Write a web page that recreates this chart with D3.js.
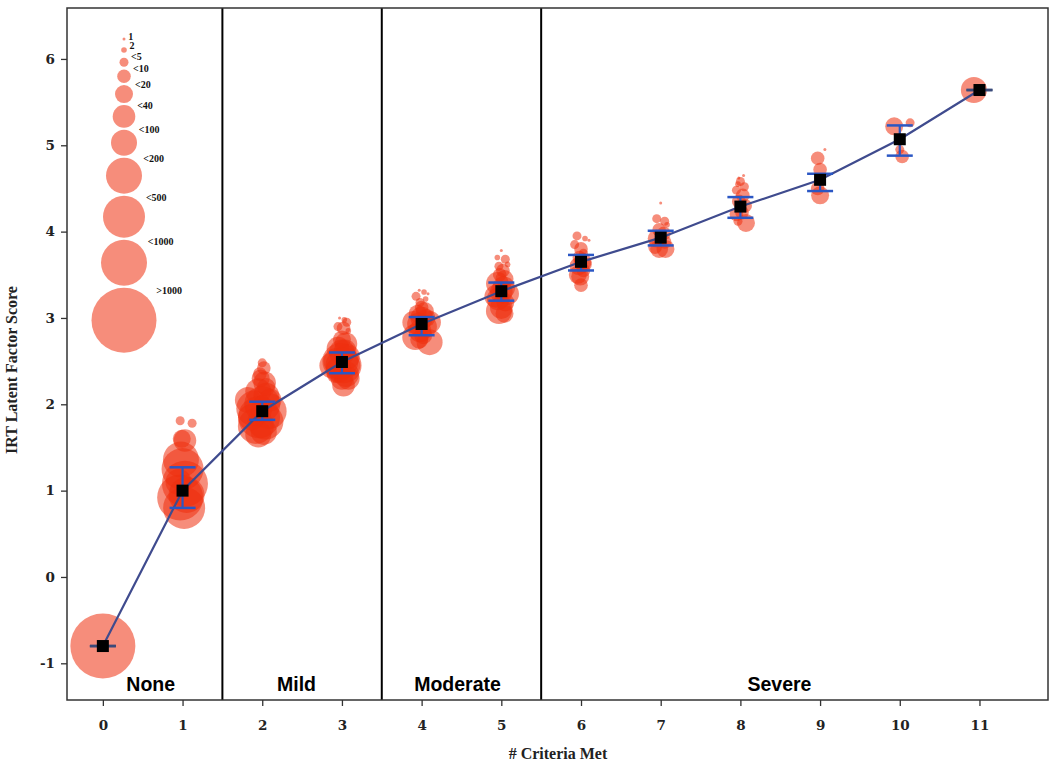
<!DOCTYPE html>
<html>
<head>
<meta charset="utf-8">
<script src="https://cdn.jsdelivr.net/npm/d3@7"></script>
<style>
  html, body { margin: 0; padding: 0; background: #fff; }
  svg { display: block; }
</style>
</head>
<body>
<svg id="chart" width="1050" height="763"></svg>
<script>
// ---------------- data ----------------
const criteria = [0, 1, 2, 3, 4, 5, 6, 7, 8, 9, 10, 11];
const meanScore = [-0.80, 1.00, 1.92, 2.49, 2.93, 3.31, 3.65, 3.93, 4.29, 4.60, 5.07, 5.64];
const lowerCI   = [-0.80, 0.80, 1.82, 2.36, 2.80, 3.20, 3.55, 3.84, 4.16, 4.47, 4.88, 5.64];
const upperCI   = [-0.80, 1.27, 2.03, 2.60, 3.01, 3.41, 3.73, 4.01, 4.40, 4.67, 5.23, 5.64];
const yTicks = [-1, 0, 1, 2, 3, 4, 5, 6];

const sizeBins = ["1", "2", "<5", "<10", "<20", "<40", "<100", "<200", "<500", "<1000", ">1000"];

const severityLabels = ["None", "Mild", "Moderate", "Severe"];
const severityCenters = [0.6, 2.43, 4.45, 8.49];
const severityBounds = [1.5, 3.5, 5.5];

// bubbles: [criteria met (jittered), IRT score, count bin]
const bubbles = [
  [0.00, -0.80, ">1000"],
  // 1
  [1.00, 1.25, "<500"], [1.03, 1.08, "<1000"], [0.97, 0.92, "<1000"], [1.02, 0.80, "<500"],
  [0.98, 1.36, "<200"], [1.03, 1.58, "<40"], [0.99, 1.60, "<20"], [0.95, 1.10, "<100"],
  [1.05, 0.95, "<200"], [0.97, 1.81, "<5"], [1.12, 1.78, "<5"],
  // 2
  [2.00, 2.48, "<5"], [2.02, 2.42, "<10"], [1.98, 2.30, "<20"], [2.03, 2.25, "<40"],
  [1.95, 2.15, "<100"], [2.05, 2.10, "<100"], [1.82, 2.05, "<100"], [2.00, 2.00, "<200"],
  [1.90, 1.95, "<200"], [2.08, 1.92, "<200"], [1.96, 1.85, "<500"], [2.04, 1.80, "<200"],
  [1.92, 1.75, "<200"], [2.02, 1.68, "<100"], [1.95, 1.65, "<100"], [2.05, 2.20, "<20"],
  [1.97, 2.35, "<10"], [1.86, 1.85, "<100"], [2.1, 2.05, "<40"],
  // 3
  [2.97, 3.00, "1"], [3.03, 2.98, "2"], [3.06, 2.95, "<5"], [2.95, 2.90, "<5"], [3.02, 2.88, "<10"],
  [3.08, 2.85, "2"], [3.00, 2.75, "<20"], [3.05, 2.70, "<40"], [2.95, 2.65, "<40"], [3.00, 2.60, "<100"],
  [3.06, 2.55, "<100"], [2.93, 2.50, "<100"], [3.02, 2.45, "<200"], [2.96, 2.40, "<100"],
  [3.05, 2.35, "<100"], [3.00, 2.30, "<40"], [3.02, 2.22, "<40"], [2.88, 2.45, "<100"],
  [3.09, 2.45, "<40"], [3.04, 2.62, "<40"], [2.92, 2.35, "<20"], [3.08, 2.30, "<40"], [2.98, 2.50, "<200"],
  // 4
  [3.97, 3.32, "1"], [4.03, 3.30, "2"], [4.08, 3.28, "1"], [3.93, 3.25, "<5"], [4.05, 3.22, "2"],
  [3.98, 3.18, "<5"], [4.00, 3.12, "<10"], [4.04, 3.08, "<20"], [3.95, 3.05, "<20"], [4.00, 3.00, "<40"],
  [3.96, 2.93, "<40"], [4.05, 2.90, "<40"], [3.98, 2.85, "<40"], [4.02, 2.80, "<20"], [4.10, 2.72, "<100"],
  [3.97, 2.75, "<20"], [3.90, 2.95, "<40"], [4.10, 2.95, "<40"], [3.92, 2.78, "<100"], [4.06, 3.00, "<20"],
  // 5
  [5.00, 3.78, "1"], [4.95, 3.70, "2"], [5.05, 3.68, "<5"], [5.08, 3.62, "2"], [4.97, 3.60, "<5"],
  [5.02, 3.55, "<10"], [4.98, 3.50, "<10"], [5.04, 3.45, "<20"], [4.95, 3.40, "<40"], [5.03, 3.35, "<40"],
  [5.00, 3.30, "<40"], [4.96, 3.22, "<40"], [5.05, 3.18, "<20"], [5.00, 3.12, "<40"], [5.04, 3.05, "<20"],
  [4.93, 3.25, "<40"], [5.08, 3.28, "<40"], [4.97, 3.08, "<100"],
  // 6
  [5.95, 3.95, "<5"], [6.05, 3.92, "2"], [6.10, 3.90, "1"], [5.92, 3.85, "<5"], [6.00, 3.80, "<10"],
  [6.03, 3.75, "<5"], [5.98, 3.70, "<10"], [6.02, 3.65, "<20"], [5.97, 3.60, "<20"], [6.03, 3.55, "<10"],
  [5.99, 3.48, "<20"], [6.00, 3.38, "<10"], [5.96, 3.50, "<20"], [6.05, 3.62, "<10"],
  // 7
  [7.00, 4.33, "1"], [6.95, 4.15, "<5"], [7.05, 4.12, "<5"], [7.08, 4.08, "2"], [6.98, 4.02, "<10"],
  [7.04, 3.98, "<10"], [6.95, 3.92, "<20"], [7.05, 3.88, "<10"], [6.98, 3.80, "<20"], [7.06, 3.80, "<20"],
  [6.93, 3.82, "<10"],
  // 8
  [8.00, 4.58, "<5"], [7.97, 4.55, "2"], [8.05, 4.52, "<5"], [7.95, 4.48, "<5"], [8.03, 4.42, "<10"],
  [7.98, 4.35, "<10"], [8.06, 4.30, "<10"], [7.95, 4.20, "<10"], [8.02, 4.22, "<10"], [7.97, 4.12, "<5"],
  [8.07, 4.10, "<20"], [7.98, 4.62, "1"], [8.04, 4.65, "1"],
  // 9
  [9.06, 4.95, "1"], [8.97, 4.85, "<10"], [9.00, 4.72, "<10"], [8.98, 4.62, "<5"], [9.00, 4.42, "<20"],
  [8.97, 4.50, "<10"],
  // 10
  [9.93, 5.22, "<20"], [10.13, 5.26, "<5"], [10.03, 4.87, "<10"], [10.00, 4.95, "<5"],
  // 11
  [10.93, 5.64, "<100"]
];

// ---------------- layout ----------------
const svg = d3.select("#chart");
const plotL = 67, plotR = 1048, plotT = 8, plotB = 700;

const x = d3.scaleLinear().domain([-0.45, 11.86]).range([plotL, plotR]);
const y = d3.scaleLinear().domain([-1.425, 6.59]).range([plotB, plotT]);
const r = d3.scaleOrdinal().domain(sizeBins)
  .range([1.5, 2.8, 4.5, 6.8, 9, 11.3, 13, 18, 21, 23, 32.5]);

const bubbleFill = "rgb(238,48,15)";
const bubbleOpacity = 0.55;

// bubbles
svg.append("g").selectAll("circle")
  .data(bubbles)
  .join("circle")
  .attr("cx", d => x(d[0]))
  .attr("cy", d => y(d[1]))
  .attr("r", d => r(d[2]))
  .attr("fill", bubbleFill)
  .attr("fill-opacity", bubbleOpacity);

// severity separators
svg.append("g").selectAll("line")
  .data(severityBounds)
  .join("line")
  .attr("x1", d => x(d)).attr("x2", d => x(d))
  .attr("y1", plotT).attr("y2", plotB)
  .attr("stroke", "#000").attr("stroke-width", 2);

// severity labels
svg.append("g").selectAll("text")
  .data(severityLabels)
  .join("text")
  .attr("x", (d, i) => x(severityCenters[i]))
  .attr("y", 691)
  .attr("text-anchor", "middle")
  .attr("font-family", "'Liberation Sans', Arial, sans-serif")
  .attr("font-weight", "bold")
  .attr("font-size", "19.5px")
  .attr("fill", "#000")
  .text(d => d);

// mean line
const line = d3.line().x((d, i) => x(criteria[i])).y(d => y(d));
svg.append("path")
  .datum(meanScore)
  .attr("d", line)
  .attr("fill", "none")
  .attr("stroke", "#3f4b8e")
  .attr("stroke-width", 2.2);

// error bars
const eb = svg.append("g");
const capW = 13;
criteria.forEach((c, i) => {
  eb.append("line")
    .attr("x1", x(c)).attr("x2", x(c))
    .attr("y1", y(lowerCI[i])).attr("y2", y(upperCI[i]))
    .attr("stroke", "#2b57c4").attr("stroke-width", 2.2);
  [lowerCI[i], upperCI[i]].forEach(v => {
    eb.append("line")
      .attr("x1", x(c) - capW).attr("x2", x(c) + capW)
      .attr("y1", y(v)).attr("y2", y(v))
      .attr("stroke", lowerCI[i] === upperCI[i] ? "#3a4a7a" : "#2b57c4")
      .attr("stroke-width", 2.5);
  });
});

// mean squares
svg.append("g").selectAll("rect")
  .data(meanScore)
  .join("rect")
  .attr("x", (d, i) => x(criteria[i]) - 6)
  .attr("y", d => y(d) - 6)
  .attr("width", 12).attr("height", 12)
  .attr("fill", "#000");

// legend
const legendX = 124;
let legY = 39;
const legendPos = sizeBins.map((b, i) => {
  if (i > 0) {
    const prev = r(sizeBins[i - 1]);
    legY += prev + r(b) + Math.max(2, 9.5 - r(b));
  }
  return legY;
});
const lg = svg.append("g");
lg.selectAll("circle")
  .data(sizeBins)
  .join("circle")
  .attr("cx", legendX)
  .attr("cy", (d, i) => legendPos[i])
  .attr("r", d => r(d))
  .attr("fill", bubbleFill)
  .attr("fill-opacity", bubbleOpacity);
lg.selectAll("text")
  .data(sizeBins)
  .join("text")
  .attr("x", d => legendX + 0.9 * r(d) + 3)
  .attr("y", (d, i) => legendPos[i] - 0.85 * r(d) - 0.5)
  .attr("dominant-baseline", "middle")
  .attr("font-family", "'Liberation Serif', 'Times New Roman', serif")
  .attr("font-weight", "bold")
  .attr("font-size", "10px")
  .attr("fill", "#111")
  .text(d => d);

// axes
const fontTicks = "'DejaVu Serif', serif";
const xAxis = svg.append("g")
  .attr("transform", `translate(0,${plotB})`)
  .call(d3.axisBottom(x).tickValues(criteria).tickSize(6).tickPadding(14).tickFormat(d => String(d)));
const yAxis = svg.append("g")
  .attr("transform", `translate(${plotL},0)`)
  .call(d3.axisLeft(y).tickValues(yTicks).tickSize(6).tickPadding(6).tickFormat(d => String(d)));
[xAxis, yAxis].forEach(a => {
  a.selectAll("path.domain").remove();
  a.selectAll(".tick line").attr("stroke", "#333").attr("stroke-width", 1.3);
  a.selectAll(".tick text")
    .attr("font-family", fontTicks)
    .attr("font-weight", "bold")
    .attr("font-size", "13.5px")
    .attr("fill", "#222");
});

// frame
svg.append("rect")
  .attr("x", plotL).attr("y", plotT)
  .attr("width", plotR - plotL).attr("height", plotB - plotT)
  .attr("fill", "none").attr("stroke", "#333").attr("stroke-width", 1.5);

// axis titles
svg.append("text")
  .attr("x", 558).attr("y", 759)
  .attr("text-anchor", "middle")
  .attr("font-family", "'Liberation Serif', 'Times New Roman', serif")
  .attr("font-weight", "bold")
  .attr("font-size", "16px")
  .attr("fill", "#222")
  .text("# Criteria Met");

svg.append("text")
  .attr("transform", "translate(17,370) rotate(-90)")
  .attr("text-anchor", "middle")
  .attr("font-family", "'Liberation Serif', 'Times New Roman', serif")
  .attr("font-weight", "bold")
  .attr("font-size", "16px")
  .attr("fill", "#222")
  .text("IRT Latent Factor Score");
</script>
</body>
</html>
